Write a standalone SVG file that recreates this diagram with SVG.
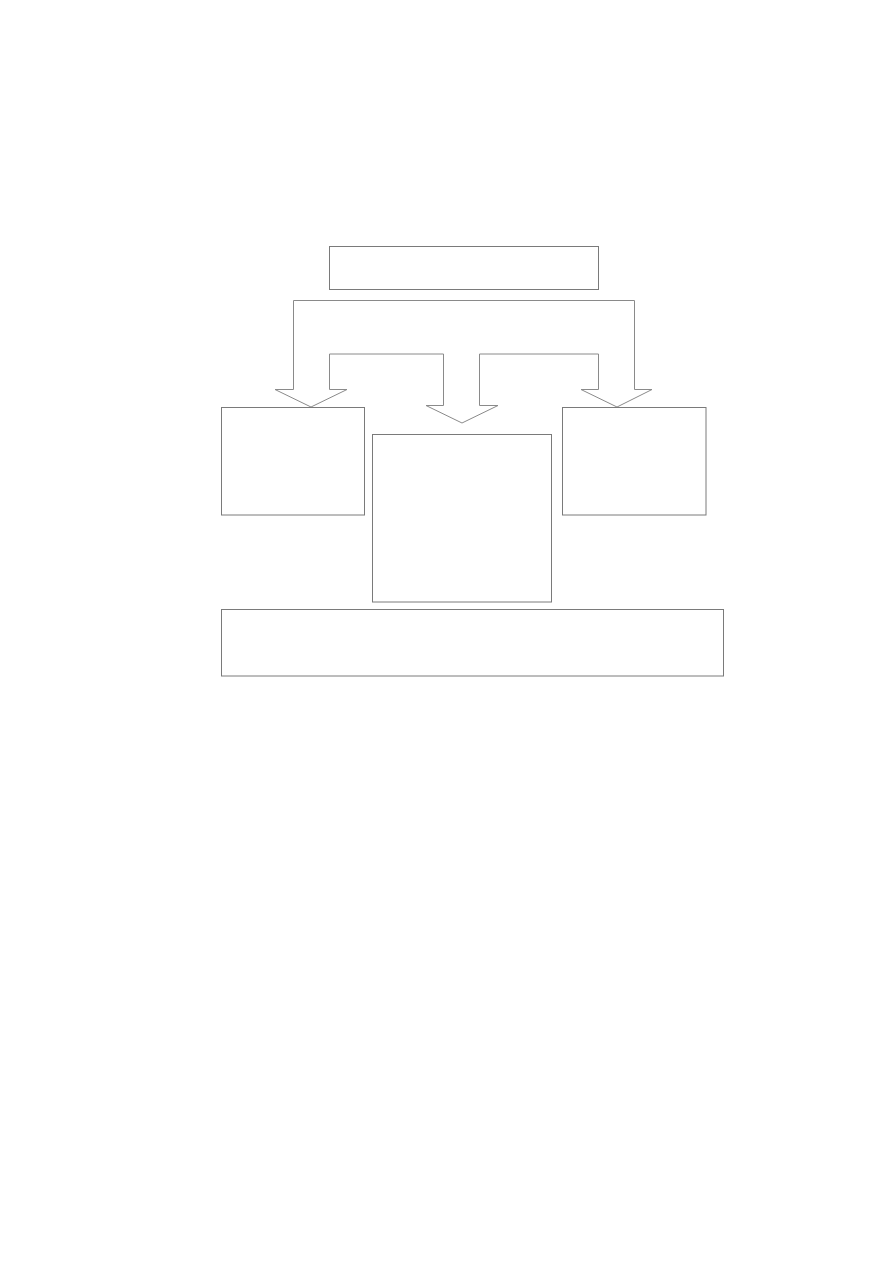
<svg xmlns="http://www.w3.org/2000/svg" width="893" height="1263" viewBox="0 0 893 1263">
<style>
.box{fill:#ffffff;stroke:#7a7a7a;stroke-width:1}
.conn{fill:#ffffff;stroke:#8a8a8a;stroke-width:1;stroke-linejoin:miter}
</style>
<rect x="0" y="0" width="893" height="1263" fill="#ffffff"/>
<g id="connectors">
<path class="conn" d="M293.5,389.5 L293.5,300.5 L634.5,300.5 L634.5,389.5 L652,389.5 L617,407 L581,389.5 L598.5,389.5 L598.5,354 L479.5,354 L479.5,405.5 L498,405.5 L462,423 L426,405.5 L443.5,405.5 L443.5,354 L329.5,354 L329.5,389.5 L347,389.5 L311,407 L275,389.5 Z"/>
</g>
<g id="node-top"><rect class="box" x="329.5" y="246.5" width="269" height="43"/></g>
<g id="node-left"><rect class="box" x="221.5" y="407.5" width="143" height="107.5"/></g>
<g id="node-center"><rect class="box" x="372.5" y="434.5" width="179" height="167.5"/></g>
<g id="node-right"><rect class="box" x="562.5" y="407.5" width="143.5" height="107.5"/></g>
<g id="node-bottom"><rect class="box" x="221.5" y="609.5" width="502" height="66.5"/></g>
</svg>
